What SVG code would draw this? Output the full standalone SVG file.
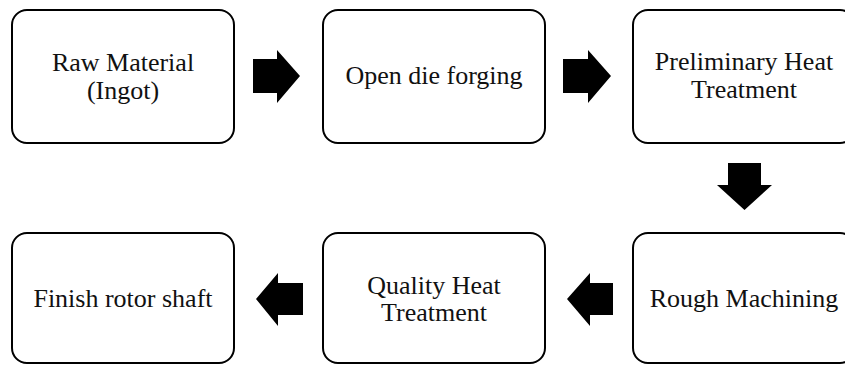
<svg xmlns="http://www.w3.org/2000/svg" width="845" height="365" viewBox="0 0 845 365">
  <style>
    .box { fill: #ffffff; stroke: #000000; stroke-width: 2; }
    .lbl { font-family: "Liberation Serif", "Times New Roman", serif; font-size: 26px; fill: #111111; text-anchor: middle; }
    .arrow { fill: #000000; stroke: none; }
  </style>
  <rect x="0" y="0" width="845" height="365" fill="#ffffff"/>

  <!-- process steps -->
  <g id="raw-material">
    <rect class="box" x="12" y="10" width="222" height="133" rx="15" ry="15"/>
    <text class="lbl" x="123" y="71">Raw Material</text>
    <text class="lbl" x="123" y="99">(Ingot)</text>
  </g>
  <g id="open-die-forging">
    <rect class="box" x="323" y="10" width="222" height="133" rx="15" ry="15"/>
    <text class="lbl" x="434" y="84">Open die forging</text>
  </g>
  <g id="preliminary-heat-treatment">
    <rect class="box" x="633" y="10" width="222" height="133" rx="15" ry="15"/>
    <text class="lbl" x="744" y="70">Preliminary Heat</text>
    <text class="lbl" x="744" y="98">Treatment</text>
  </g>
  <g id="rough-machining">
    <rect class="box" x="633" y="233" width="222" height="130" rx="15" ry="15"/>
    <text class="lbl" x="744" y="307">Rough Machining</text>
  </g>
  <g id="quality-heat-treatment">
    <rect class="box" x="323" y="233" width="222" height="130" rx="15" ry="15"/>
    <text class="lbl" x="434" y="294">Quality Heat</text>
    <text class="lbl" x="434" y="321">Treatment</text>
  </g>
  <g id="finish-rotor-shaft">
    <rect class="box" x="12" y="233" width="222" height="130" rx="15" ry="15"/>
    <text class="lbl" x="123" y="307">Finish rotor shaft</text>
  </g>

  <!-- block arrows between steps -->
  <g id="connectors">
    <polygon class="arrow" points="253,59 277,59 277,50 300,76 277,103 277,93 253,93"/>
    <polygon class="arrow" points="563,59 588,59 588,50 611,76 588,103 588,93 563,93"/>
    <polygon class="arrow" points="728,163 761,163 761,185 772,185 744.5,210 717,185 728,185"/>
    <polygon class="arrow" points="613,283 590,283 590,273 567,299 590,326 590,315 613,315"/>
    <polygon class="arrow" points="303,283 278,283 278,273 256,299 278,326 278,315 303,315"/>
  </g>
</svg>
